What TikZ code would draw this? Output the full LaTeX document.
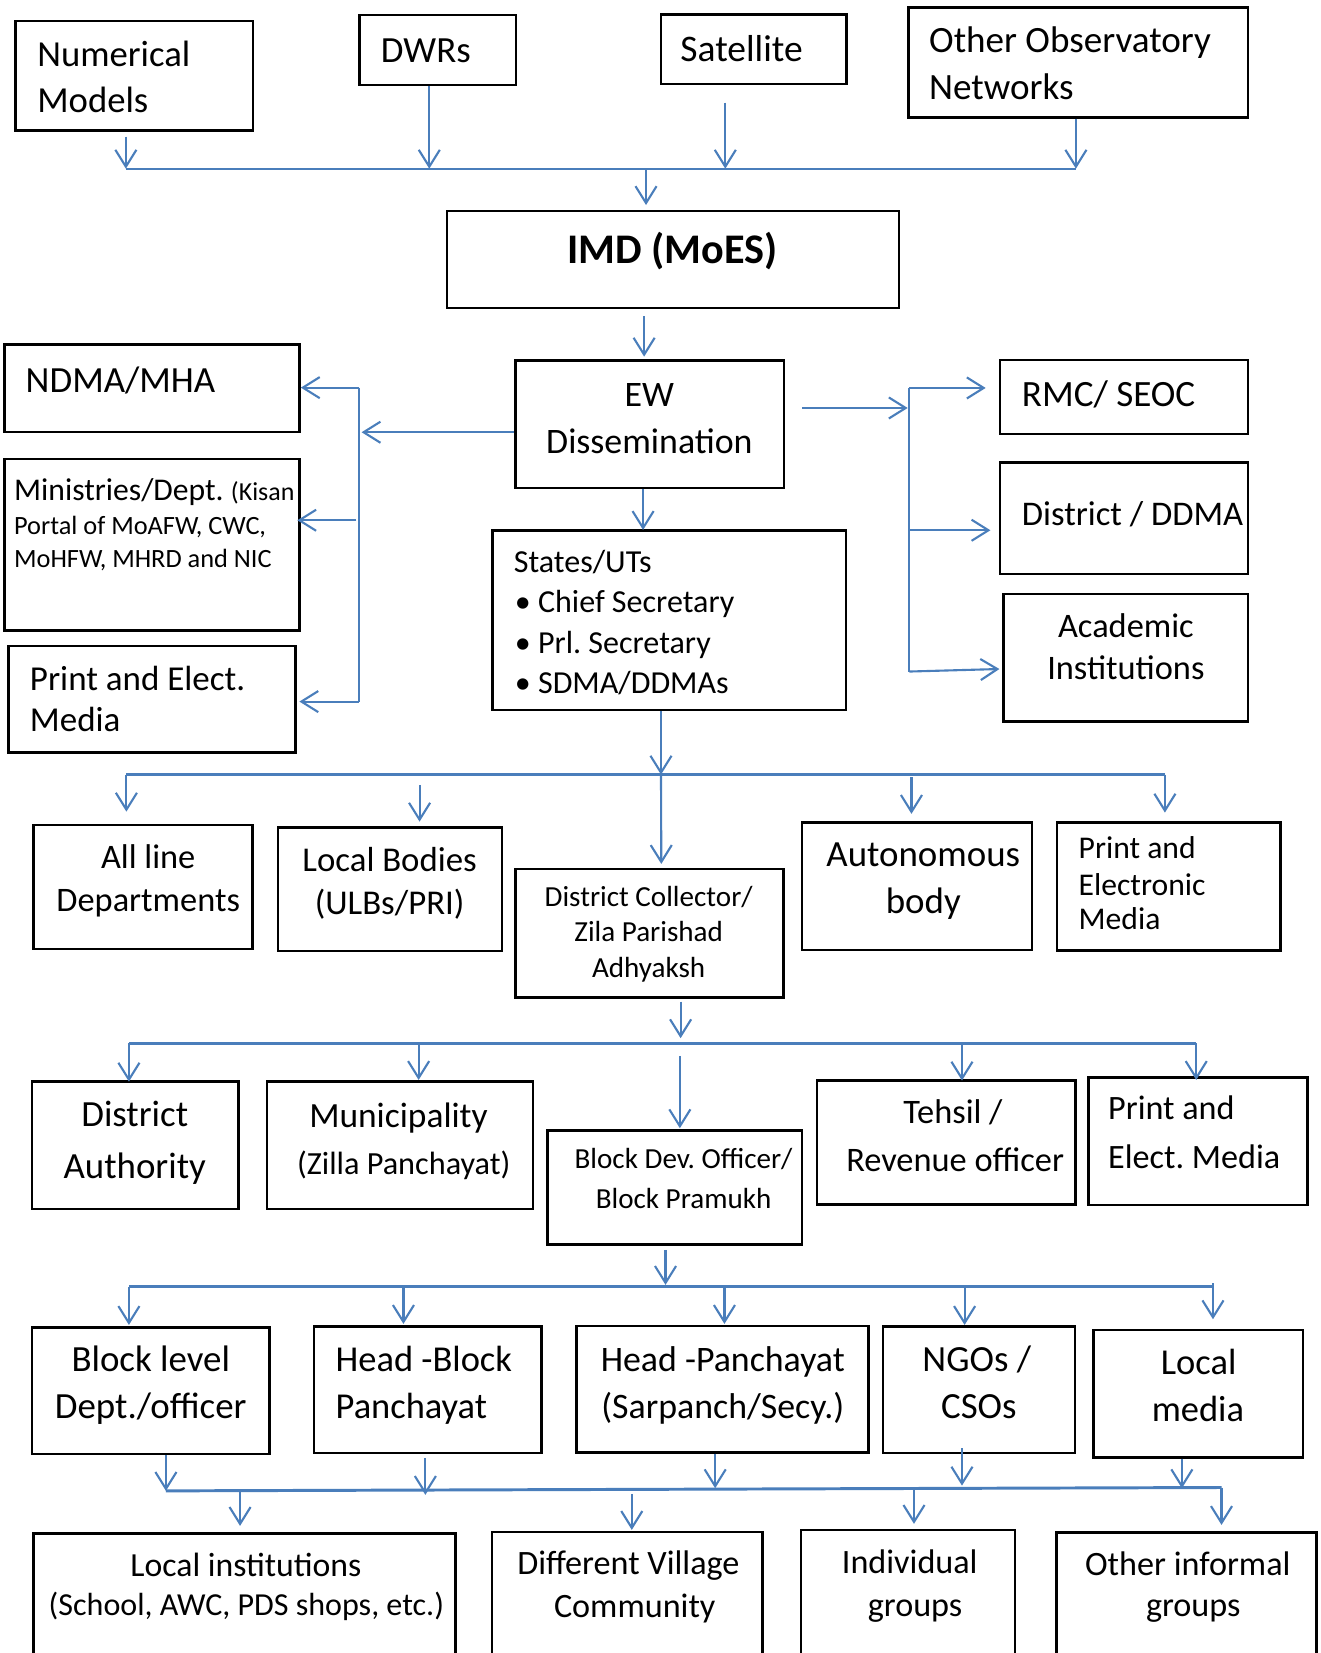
\documentclass[tikz,border=0pt]{standalone}
\usepackage{fontspec}
\setmainfont{Carlito}
\usetikzlibrary{arrows.meta,fit}
\definecolor{lblue}{RGB}{74,126,187}
\frenchspacing
\tikzset{
  box/.style={draw=black, line width=1.2pt, inner sep=0pt},
  tx/.style={inner sep=0pt, anchor=base},
  txl/.style={inner sep=0pt, anchor=base west},
  sz/.style={font=\fontsize{#1}{#1}\selectfont},
  ln/.style={draw=lblue, line width=1pt},
  bus/.style={draw=lblue, line width=1.4pt},
  arr/.style={draw=lblue, line width=1pt, -{Straight Barb[length=8pt,width=10pt]}},
}
\newcommand\bx[5]{\node[box, fit={(#2,#3) (#4,#5)}] (#1) {};}
\begin{document}
\begin{tikzpicture}[x=0.5pt,y=-0.5pt]
\useasboundingbox (0,0) rectangle (1253,1568);
\clip (0,0) rectangle (1253,1568);
% ---------------- boxes
\bx{nm}{14.8}{20}{240}{124}
\bx{dwr}{341}{14.2}{489.4}{80.6}
\bx{sat}{627}{13.6}{803}{79.7}
\bx{oon}{862}{7}{1184}{111.3}
\bx{imd}{424}{200}{852.7}{292}
\bx{ew}{489}{342}{743.8}{463}
\bx{ndma}{4.4}{327}{284.2}{410}
\bx{min}{4.4}{435.6}{284.2}{598}
\bx{pel}{8.2}{612.8}{280.4}{714}
\bx{rmc}{948.6}{341.5}{1184}{411.6}
\bx{ddma}{948.6}{438.8}{1184}{544.6}
\bx{acad}{952}{563.6}{1184}{684.5}
\bx{st}{467}{503}{802.6}{673.4}
\bx{ald}{32}{782.5}{239.7}{900.4}
\bx{lb}{263.7}{785}{476.2}{902}
\bx{dc}{489}{824.3}{743.2}{946.3}
\bx{aut}{760.7}{780}{979}{901}
\bx{pem}{1002.7}{780.3}{1214.6}{901.7}
\bx{da}{30.4}{1026}{226.1}{1146.8}
\bx{mun}{253.3}{1026}{505.8}{1146.8}
\bx{bdo}{519.4}{1072.4}{760.7}{1180.3}
\bx{teh}{775.1}{1025}{1020.4}{1142.3}
\bx{pemb}{1032.4}{1021.9}{1240.2}{1143}
\bx{bl}{30.4}{1259}{255.7}{1379.4}
\bx{hb}{298}{1258.4}{513.8}{1378.4}
\bx{hp}{546.6}{1257.7}{823.8}{1377.7}
\bx{ngo}{837.4}{1258.4}{1019.6}{1378.4}
\bx{lm}{1037.2}{1261.5}{1236.2}{1382.3}
\bx{li}{32}{1454.4}{432.3}{1600}
\bx{dv}{466.7}{1453.4}{723.2}{1600}
\bx{ig}{760}{1451.2}{962.9}{1600}
\bx{oi}{1002}{1453.7}{1249}{1600}
% ---------------- texts
\node[txl,sz=17.4] (nmt1) at (35,63) {Numerical};
\node[txl,sz=17.4] (nmt2) at (35,107) {Models};
\node[txl,sz=17.5] (dwrt) at (361,59) {DWRs};
\node[txl,sz=17.8] (satt) at (645,58) {Satellite};
\node[txl,sz=17.6] (oont1) at (881,50) {Other Observatory};
\node[txl,sz=17.6] (oont2) at (881,94) {Networks};
\node[tx,font=\fontsize{20}{20}\selectfont\bfseries] (imdt) at (638,250) {IMD (MoES)};
\node[tx,sz=17] (ewt1) at (616,386) {EW};
\node[tx,sz=17] (ewt2) at (616,430) {Dissemination};
\node[txl,sz=17.5] (ndmat) at (24,372) {NDMA/MHA};
\node[txl,sz=15] (mint1) at (13,475) {Ministries/Dept. {\fontsize{12.3}{12.3}\selectfont(Kisan}};
\node[txl,sz=12.5] (mint2) at (13,507) {Portal of MoAFW, CWC,};
\node[txl,sz=12.5] (mint3) at (13,538) {MoHFW, MHRD and NIC};
\node[txl,sz=16.6] (pelt1) at (28,655) {Print and Elect.};
\node[txl,sz=16.6] (pelt2) at (28,694) {Media};
\node[txl,sz=17.6] (rmct) at (969,386) {RMC/ SEOC};
\node[txl,sz=16.4] (ddmat) at (969,498) {District / DDMA};
\node[tx,sz=16.3] (acadt1) at (1068,605) {Academic};
\node[tx,sz=16.3] (acadt2) at (1068,645) {Institutions};
\node[txl,sz=15.2] (stt1) at (487,543) {States/UTs};
\node[txl,sz=15.2] (stt2) at (488,581) {\makebox[11pt][l]{•}Chief Secretary};
\node[txl,sz=15.2] (stt3) at (488,620) {\makebox[11pt][l]{•}Prl. Secretary};
\node[txl,sz=15.2] (stt4) at (488,658) {\makebox[11pt][l]{•}SDMA/DDMAs};
\node[tx,sz=16.3] (aldt1) at (140.6,823.6) {All line};
\node[tx,sz=16.3] (aldt2) at (140.6,864.7) {Departments};
\node[tx,sz=16.5] (lbt1) at (369.6,826.8) {Local Bodies};
\node[tx,sz=16.5] (lbt2) at (369.6,867) {(ULBs/PRI)};
\node[tx,sz=13.8] (dct1) at (615.3,860) {District Collector/};
\node[tx,sz=13.8] (dct2) at (615.3,893.5) {Zila Parishad};
\node[tx,sz=13.8] (dct3) at (615.3,927) {Adhyaksh};
\node[tx,sz=17.5] (autt1) at (875.8,822) {Autonomous};
\node[tx,sz=17.5] (autt2) at (875.8,866.3) {body};
\node[txl,sz=15] (pemt1) at (1022.8,814.8) {Print and};
\node[txl,sz=15] (pemt2) at (1022.8,849) {Electronic};
\node[txl,sz=15] (pemt3) at (1022.8,882) {Media};
\node[tx,sz=17.5] (dat1) at (127.8,1068.6) {District};
\node[tx,sz=17.5] (dat2) at (127.8,1117.6) {Authority};
\node[tx,sz=16.8] (munt1) at (378,1069.6) {Municipality};
\node[tx,sz=15.3] (munt2) at (383,1114.5) {(Zilla Panchayat)};
\node[tx,sz=13.8] (bdot1) at (648.4,1108) {Block Dev. Officer/};
\node[tx,sz=13.8] (bdot2) at (648.4,1146) {Block Pramukh};
\node[tx,sz=16.3] (teht1) at (904,1065.5) {Tehsil /};
\node[tx,sz=16.3] (teht2) at (906,1111.3) {Revenue officer};
\node[txl,sz=16.2] (pembt1) at (1050.8,1062.3) {Print and};
\node[txl,sz=16.2] (pembt2) at (1050.8,1108.2) {Elect. Media};
\node[tx,sz=17.5] (blt1) at (143,1301) {Block level};
\node[tx,sz=17.5] (blt2) at (143,1345.3) {Dept./officer};
\node[txl,sz=17.3] (hbt1) at (318,1301) {Head -Block};
\node[txl,sz=17.3] (hbt2) at (318,1345.3) {Panchayat};
\node[tx,sz=17] (hpt1) at (685.6,1301) {Head -Panchayat};
\node[tx,sz=17] (hpt2) at (685.6,1345.3) {(Sarpanch/Secy.)};
\node[tx,sz=17.5] (ngot1) at (926.5,1301) {NGOs /};
\node[tx,sz=17.5] (ngot2) at (928.5,1345.3) {CSOs};
\node[tx,sz=17.3] (lmt1) at (1137,1304.2) {Local};
\node[tx,sz=17.3] (lmt2) at (1136.3,1348.5) {media};
\node[tx,sz=16] (lit1) at (233.3,1495.4) {Local institutions};
\node[tx,sz=15.2] (lit2) at (233.7,1532.8) {(School, AWC, PDS shops, etc.)};
\node[tx,sz=16.2] (dvt1) at (596.1,1493.3) {Different Village};
\node[tx,sz=16.2] (dvt2) at (602.1,1534) {Community};
\node[tx,sz=16.2] (igt1) at (863,1492.3) {Individual};
\node[tx,sz=16.2] (igt2) at (868,1533.4) {groups};
\node[tx,sz=16.2] (oit1) at (1126.7,1494) {Other informal};
\node[tx,sz=16.2] (oit2) at (1131.9,1533.4) {groups};
% ---------------- coordinates
\coordinate (t0) at (119.4,160);
\coordinate (t1) at (1020.6,160);
\coordinate (nmo) at (119.4,129.6);
\coordinate (dwrb) at (407.2,160);
\coordinate (sato) at (688,97.4);
\coordinate (satb) at (688,160);
\coordinate (imdb) at (612.8,160);
\coordinate (imdi) at (612.8,194.5);
\coordinate (imdo) at (611,300);
\coordinate (ewin) at (611,338.3);
\coordinate (lj) at (343,410);
\coordinate (lv1) at (340.3,367.7);
\coordinate (lv2) at (340.3,665.5);
\coordinate (lm1) at (338,493.5);
\coordinate (mini) at (282,493.5);
\coordinate (peli) at (284,665.5);
\coordinate (ro) at (761,387);
\coordinate (rj) at (861,387);
\coordinate (rv1) at (862.6,368);
\coordinate (rv2) at (862.6,637);
\coordinate (rmci) at (935,368);
\coordinate (ddmai) at (939.5,503);
\coordinate (acadi) at (948,634.6);
\coordinate (sti) at (610,502.7);
\coordinate (b2m) at (627,734.8);
\coordinate (b2l) at (119.9,734.8);
\coordinate (b2r) at (1105,734.8);
\coordinate (aldi) at (119.9,769.9);
\coordinate (lbo) at (398,744.6);
\coordinate (lbi) at (398,779.4);
\coordinate (dci) at (627.3,819.5);
\coordinate (auto) at (864.6,737.3);
\coordinate (auti) at (864.6,772);
\coordinate (pemi) at (1105,770.8);
\coordinate (dco) at (645.6,950);
\coordinate (b3m) at (645.6,984.8);
\coordinate (b3l) at (122.3,989.6);
\coordinate (b3r) at (1134.7,989.6);
\coordinate (dai) at (122.3,1026);
\coordinate (munb) at (397.1,989.6);
\coordinate (muni) at (397.1,1024.4);
\coordinate (bdoo) at (644.9,1001.6);
\coordinate (bdoi) at (644.9,1070.2);
\coordinate (tehb) at (912.5,989.6);
\coordinate (tehi) at (912.5,1025);
\coordinate (pembi) at (1134.7,1024.4);
\coordinate (bdoo2) at (631.3,1185.6);
\coordinate (b4m) at (631.3,1218.8);
\coordinate (b4l) at (122.3,1220.4);
\coordinate (b4r) at (1150.6,1220.4);
\coordinate (bli) at (122.3,1256.8);
\coordinate (hbb) at (382.7,1220.4);
\coordinate (hbi) at (382.7,1255.8);
\coordinate (hpb) at (687.2,1220.4);
\coordinate (hpi) at (687.2,1255.8);
\coordinate (ngob) at (915,1220.4);
\coordinate (ngoi) at (915,1256.8);
\coordinate (lmo) at (1150.6,1217.3);
\coordinate (lmi) at (1150.6,1251.4);
\coordinate (b5a) at (157.4,1414.2);
\coordinate (hbo) at (403.5,1383.2);
\coordinate (b5b) at (403.5,1418);
\coordinate (b5c) at (678.4,1411.7);
\coordinate (ngoo) at (912.5,1373.7);
\coordinate (b5d) at (912.5,1409.2);
\coordinate (b5e) at (1121.1,1411.7);
\coordinate (b5r) at (1158.7,1411);
\coordinate (oii) at (1158.7,1446.5);
\coordinate (lib) at (227.7,1412.6);
\coordinate (lii) at (227.7,1447.4);
\coordinate (dvo) at (599.3,1417);
\coordinate (dvi) at (599.3,1451.2);
\coordinate (igb) at (867,1411);
\coordinate (igi) at (867,1445.5);
% ---------------- connectors: top
\draw[ln] (t0) -- (t1);
\draw[arr] (nmo) -- (t0);
\draw[arr] (dwr.south -| dwrb) -- (dwrb);
\draw[arr] (sato) -- (satb);
\draw[arr] (oon.south -| t1) -- (t1);
\draw[arr] (imdb) -- (imdi);
\draw[arr] (imdo) -- (ewin);
% left branch
\draw[arr] (ew.west |- lj) -- (lj);
\draw[ln] (lv1) -- (lv2);
\draw[arr] (lv1) -- (ndma.east |- lv1);
\draw[arr] (lm1) -- (mini);
\draw[arr] (lv2) -- (peli);
% right branch
\draw[arr] (ro) -- (rj);
\draw[ln] (rv1) -- (rv2);
\draw[arr] (rv1) -- (rmci);
\draw[arr] (rv1 |- ddmai) -- (ddmai);
\draw[arr] (rv2) -- (acadi);
\draw[arr] (ew.south -| sti) -- (sti);
% level 2
\draw[arr] (st.south -| b2m) -- (b2m);
\draw[bus] (b2l) -- (b2r);
\draw[arr] (b2l) -- (aldi);
\draw[arr] (lbo) -- (lbi);
\draw[arr] (b2m) -- (dci);
\draw[arr] (auto) -- (auti);
\draw[arr] (b2r) -- (pemi);
% level 3
\draw[arr] (dco) -- (b3m);
\draw[bus] (b3l) -- (b3r);
\draw[arr] (b3l) -- (dai);
\draw[arr] (munb) -- (muni);
\draw[arr] (bdoo) -- (bdoi);
\draw[arr] (tehb) -- (tehi);
\draw[arr] (b3r) -- (pembi);
% level 4
\draw[arr] (bdoo2) -- (b4m);
\draw[bus] (b4l) -- (b4r);
\draw[arr] (b4l) -- (bli);
\draw[arr] (hbb) -- (hbi);
\draw[arr] (hpb) -- (hpi);
\draw[arr] (ngob) -- (ngoi);
\draw[arr] (lmo) -- (lmi);
% level 5
\draw[arr] (bl.south -| b5a) -- (b5a);
\draw[arr] (hbo) -- (b5b);
\draw[arr] (hp.south -| b5c) -- (b5c);
\draw[arr] (ngoo) -- (b5d);
\draw[arr] (lm.south -| b5e) -- (b5e);
\draw[bus] (b5a) -- (b5r);
\draw[arr] (b5r) -- (oii);
\draw[arr] (lib) -- (lii);
\draw[arr] (dvo) -- (dvi);
\draw[arr] (igb) -- (igi);
\end{tikzpicture}
\end{document}
